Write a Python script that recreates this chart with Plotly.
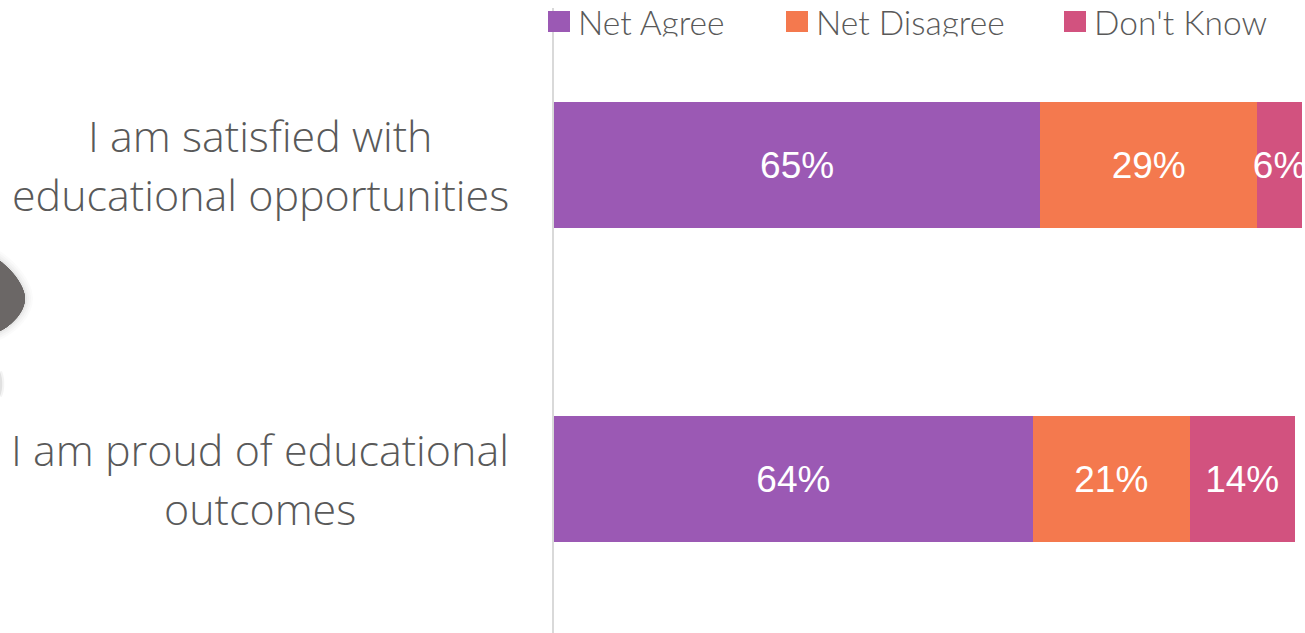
import plotly.graph_objects as go

W, H = 1305, 633
categories = ["I am satisfied with educational opportunities", "I am proud of educational outcomes"]
category_lines = [["I am satisfied with", "educational opportunities"], ["I am proud of educational", "outcomes"]]
net_agree = [65, 64]
net_disagree = [29, 21]
dont_know = [6, 14]
series_names = ["Net Agree", "Net Disagree", "Don't Know"]
series_colors = ["#9b59b4", "#f4794e", "#d2527f"]
legend_x = [548, 786, 1064]

px = lambda x: x / W
py = lambda y: 1 - y / H

fig = go.Figure()
for name, vals, col in zip(series_names, [net_agree, net_disagree, dont_know], series_colors):
    fig.add_trace(go.Bar(
        name=name, y=categories, x=vals, orientation="h", width=0.4,
        marker=dict(color=col, line=dict(width=0)),
        text=[f"{v}%" for v in vals], textposition="inside", insidetextanchor="middle",
        textangle=0, constraintext="none", cliponaxis=False,
        textfont=dict(family="Liberation Sans", size=37, color="white"),
        hoverinfo="skip",
    ))

LABEL_FONT = dict(family="Open Sans", size=43, color="#595959", weight=300)
annotations = []
for cat, lines in zip(categories, category_lines):
    for i, line in enumerate(lines):
        annotations.append(dict(
            xref="paper", yref="y", x=px(260), y=cat, text=line, showarrow=False,
            xanchor="center", yanchor="middle", yshift=29.5 - 59 * i, font=LABEL_FONT,
        ))

shapes = []
for name, col, x0 in zip(series_names, series_colors, legend_x):
    shapes.append(dict(type="rect", xref="paper", yref="paper", x0=px(x0), x1=px(x0 + 22),
                       y0=py(32), y1=py(11), fillcolor=col, line=dict(width=0), layer="above"))
    annotations.append(dict(
        xref="paper", yref="paper", x=px(x0 + 28), y=py(22), text=name, showarrow=False,
        xanchor="left", yanchor="middle", font=dict(family="Lato", size=33.5, color="#595959", weight=300),
    ))
# the legend text is cut off just under its baseline in the reference
annotations.append(dict(
    xref="paper", yref="paper", x=px(575), y=py(36), text=" ", showarrow=False, xanchor="left",
    yanchor="top", width=700, height=24, bgcolor="white", font=dict(size=10),
))

# grey rounded shape entering from the left edge, with a soft shadow
blob = "M 0 261 C 12 270 24 285 25 298 C 25 312 12 325 0 331 Z"
smudge = "M 0 372 C 3 378 3 390 0 396 Z"
def to_paper(path):
    out, is_x = [], True
    for tok in path.split():
        if tok.isalpha():
            out.append(tok)
        else:
            out.append(f"{px(float(tok)) if is_x else py(float(tok)):.5f}")
            is_x = not is_x
    return " ".join(out)
for w, op in [(16, 0.025), (12, 0.03), (8, 0.04), (4, 0.06)]:
    shapes.append(dict(type="path", xref="paper", yref="paper", path=to_paper(blob),
                       fillcolor="#6b6766", line=dict(color=f"rgba(90,90,90,{op})", width=w), layer="below"))
shapes.append(dict(type="path", xref="paper", yref="paper", path=to_paper(blob),
                   fillcolor="#6b6766", line=dict(width=0), layer="below"))
shapes.append(dict(type="path", xref="paper", yref="paper", path=to_paper(smudge),
                   fillcolor="#e8e8e8", line=dict(color="rgba(200,200,200,0.2)", width=4), layer="below"))

fig.update_layout(
    width=W, height=H, barmode="stack", bargap=0.6, showlegend=False,
    margin=dict(l=0, r=0, t=0, b=0), paper_bgcolor="white", plot_bgcolor="white",
    xaxis=dict(domain=[554 / W, 1], range=[0, 100.4], visible=False),
    yaxis=dict(domain=[0, 625 / H], range=[1.49, -0.5], type="category",
               categoryorder="array", categoryarray=categories, showticklabels=False, ticks="",
               showgrid=False, zeroline=False, showline=True, linecolor="#d9d9d9", linewidth=1.5),
    annotations=annotations, shapes=shapes,
)
fig.write_html("out.html", config={"displayModeBar": False},
               post_script="document.body.style.margin='0';document.body.style.overflow='hidden';")
